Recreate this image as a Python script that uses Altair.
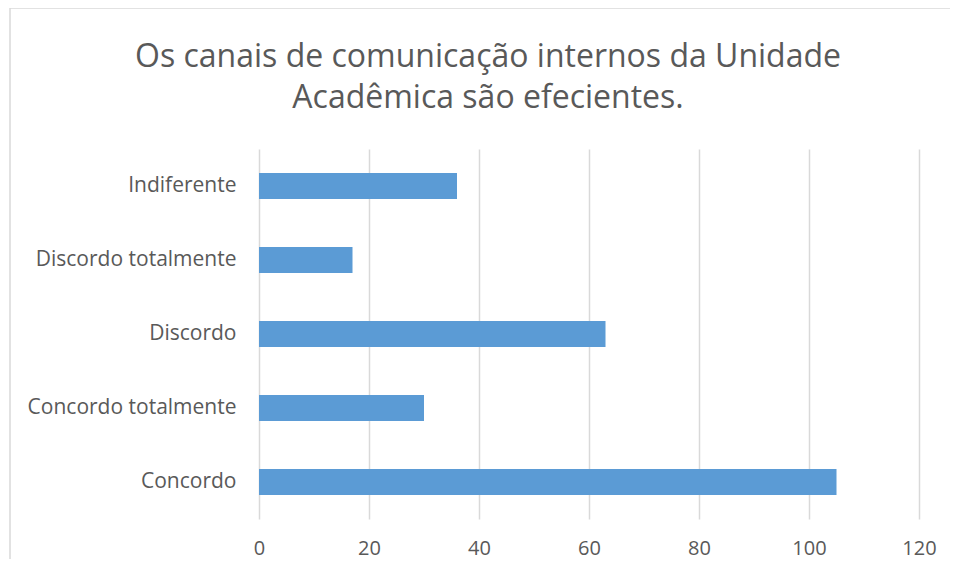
import altair as alt
import pandas as pd

categories = ["Indiferente", "Discordo totalmente", "Discordo", "Concordo totalmente", "Concordo"]
values = [36, 17, 63, 30, 105]
x_ticks = [0, 20, 40, 60, 80, 100, 120]
title_lines = ["Os canais de comunicação internos da Unidade", "Acadêmica são efecientes."]

df = pd.DataFrame({"categoria": categories, "valor": values})
single = pd.DataFrame({"k": [0]})

FONT = "Open Sans"
GRAY = "#595959"

bars = alt.Chart(df).mark_bar(color="#5b9bd5").encode(
    y=alt.Y("categoria:N", sort=categories,
            scale=alt.Scale(paddingInner=0.65, paddingOuter=0.325),
            axis=alt.Axis(title=None, ticks=False, domain=False, labelFontSize=21,
                          labelColor=GRAY, labelFont=FONT, labelPadding=23, labelLimit=400,
                          grid=False)),
    x=alt.X("valor:Q", scale=alt.Scale(domain=[0, 120], nice=False),
            axis=alt.Axis(title=None, values=x_ticks, ticks=False, domain=False,
                          labelFontSize=20, labelColor=GRAY, labelFont=FONT, labelFlush=False,
                          labelPadding=19, grid=True, gridColor="#d9d9d9", gridWidth=1.5)),
)

border = alt.Chart(single).mark_rect(fill=None, stroke="#d9d9d9", strokeWidth=1.5, clip=False).encode(
    x=alt.value(-249), x2=alt.value(712), y=alt.value(-141), y2=alt.value(440)
)

title = alt.Chart(single).mark_text(
    font=FONT, fontSize=32, fontWeight="normal", color=GRAY, align="center",
    baseline="alphabetic", lineHeight=41, clip=False
).encode(
    x=alt.value(229), y=alt.value(-82), text=alt.value(title_lines)
)

chart = alt.layer(border, bars, title).properties(
    width=660, height=370,
    autosize=alt.AutoSizeParams(type="none"),
    padding={"left": 251, "top": 141, "right": 31, "bottom": 40},
).configure_view(stroke=None)

chart.save("out.html", embed_options={"renderer": "svg", "actions": False})
